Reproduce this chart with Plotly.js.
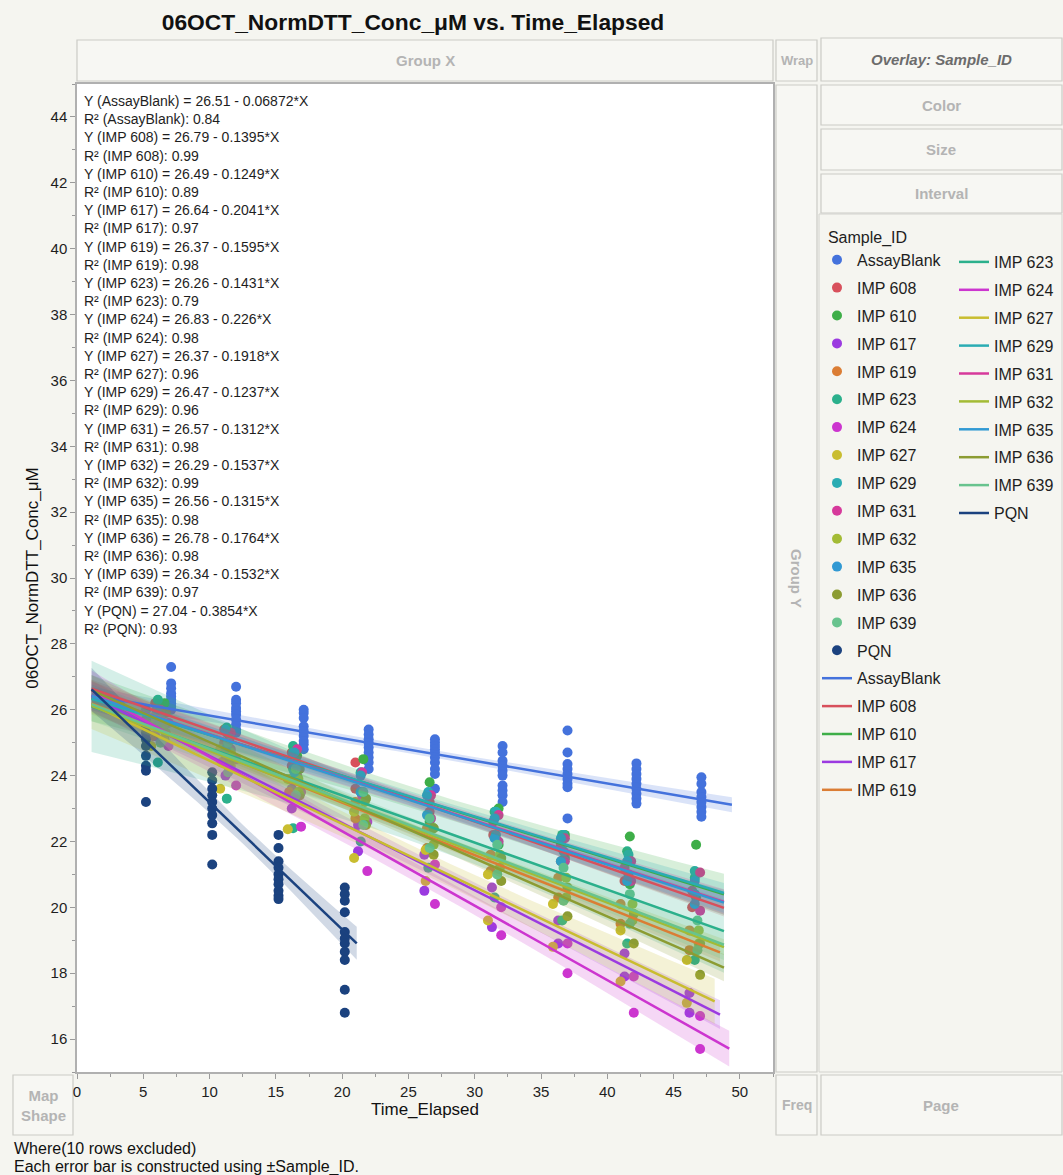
<!DOCTYPE html>
<html><head><meta charset="utf-8">
<script src="https://cdn.plot.ly/plotly-3.0.1.min.js"></script>
<style>html,body{margin:0;padding:0;background:#f5f5f0}</style>
</head><body><div id="chart" style="width:1063px;height:1175px"></div>
<script>
// ---------------- DATA ----------------
const sampleIds = ['AssayBlank','IMP 608','IMP 610','IMP 617','IMP 619','IMP 623','IMP 624','IMP 627','IMP 629','IMP 631','IMP 632','IMP 635','IMP 636','IMP 639','PQN'];
const seriesColors = ['#4472dc','#d8505c','#3eae48','#9b3ae0','#db7d34','#2bb08c','#cc35cf','#c9bd30','#2aacb3','#d6399b','#a3bb35','#3199d3','#8c9c32','#68c38e','#1b427f'];
const intercepts = [26.51,26.79,26.49,26.64,26.37,26.26,26.83,26.37,26.47,26.57,26.29,26.56,26.78,26.34,27.04];
const slopes = [-0.06872,-0.1395,-0.1249,-0.2041,-0.1595,-0.1431,-0.226,-0.1918,-0.1237,-0.1312,-0.1537,-0.1315,-0.1764,-0.1532,-0.3854];
const rSquared = [0.84,0.99,0.89,0.97,0.98,0.79,0.98,0.96,0.96,0.98,0.99,0.98,0.98,0.97,0.93];
const fitStart = [1.1,1.1,1.1,1.1,1.1,1.1,1.1,1.1,1.1,1.1,1.1,1.1,1.1,1.1,1.1];
const fitEnd = [49.4,48.8,48.8,48.5,48.5,48.8,49.2,48.1,48.8,48.8,48.8,48.8,48.8,48.8,21.1];

const tAssayBlank = [7.1,12.0,17.1,22.0,27.0,32.1,37.0,42.2,47.1];
const yAssayBlank = [
  [27.3,26.8,26.65,26.5,26.4,26.3,26.2,26.1,26.0],
  [26.7,26.3,26.2,26.05,25.95,25.85,25.7,25.55,25.4,25.3],
  [26.0,25.9,25.75,25.5,25.35,25.2,25.05,24.95,24.8],
  [25.4,25.25,25.1,25.0,24.85,24.7,24.55,24.4,24.2],
  [25.1,25.0,24.9,24.8,24.7,24.55,24.4,24.2,24.05,23.6],
  [24.9,24.7,24.45,24.3,24.15,24.0,23.7,23.55,23.4,23.2],
  [25.37,24.7,24.35,24.2,24.05,23.9,23.75,23.65,22.7],
  [24.37,24.2,24.05,23.9,23.75,23.6,23.45,23.3,23.15],
  [23.95,23.75,23.5,23.35,23.2,23.05,22.9,22.75]];
const tIMP608 = [5.9,11.1,16.2,21.0,26.6,31.4,36.5,41.3,46.4];
const yIMP608 = [[26.2,25.8],[25.4,25.0],[24.7,24.3],[24.4,23.6],[23.2,22.9],[22.6,22.2],[21.9,21.4],[21.2,20.8],[20.5,20.0]];
const tIMP610 = [6.6,11.4,16.6,21.6,26.6,31.8,36.8,41.7,46.7];
const yIMP610 = [[26.2,25.1],[25.3,24.4],[24.6,23.9],[24.5,23.3],[23.8,22.6],[23.0,21.9],[22.2,21.5],[22.15,20.7],[21.9,20.3]];
const tIMP617 = [5.9,11.2,16.2,21.2,26.2,31.3,36.3,41.3,46.2];
const yIMP617 = [[25.6,25.2],[24.0,24.5],[23.0,23.6],[21.7,22.5],[20.5,21.6],[19.4,20.6],[19.6,18.9],[17.9,18.6],[16.8,17.4]];
const tIMP619 = [5.7,10.9,16.0,21.0,26.4,31.2,36.3,41.0,46.2];
const yIMP619 = [[25.6,25.2],[24.8,24.4],[23.9,23.5],[23.2,22.7],[22.4,21.8],[21.6,21.1],[20.9,20.3],[20.1,19.5],[19.3,18.7]];
const tIMP623 = [6.1,11.3,16.3,21.4,26.5,31.5,36.6,41.5,46.6];
const yIMP623 = [[26.3,24.4],[25.46,23.3],[22.4,24.9],[24.06,22.0],[23.4,21.2],[22.9,20.3],[22.2,19.6],[21.7,18.9],[20.9,18.4]];
const tIMP624 = [6.9,12.0,16.9,21.9,27.0,32.0,37.0,42.0,47.0];
const yIMP624 = [[25.6,24.9],[23.7,24.5],[22.45,23.5],[21.1,22.6],[20.1,21.3],[19.15,20.0],[18.0,18.9],[16.8,17.9],[15.7,16.7]];
const tIMP627 = [5.6,10.8,15.9,20.9,26.3,31.0,35.9,41.0,46.0];
const yIMP627 = [[25.7,24.9],[23.6,24.8],[22.37,23.9],[21.5,22.9],[21.74,20.8],[19.6,21.0],[20.1,18.8],[19.3,17.75],[18.4,17.1]];
const tIMP629 = [6.1,11.3,16.3,21.4,26.5,31.6,36.7,41.6,46.6];
const yIMP629 = [[25.9,25.5],[25.3,24.8],[24.7,24.2],[24.1,23.5],[23.5,22.8],[22.9,22.2],[22.2,21.7],[21.6,21.0],[21.1,20.4]];
const tIMP631 = [6.3,11.6,16.6,21.5,26.7,31.8,36.8,41.8,47.0];
const yIMP631 = [[26.0,25.5],[25.3,24.8],[24.8,24.0],[24.1,23.4],[23.4,22.7],[22.8,22.0],[22.1,21.4],[21.4,20.8],[21.06,19.9]];
const tIMP632 = [6.5,11.6,16.7,21.7,26.9,31.9,36.9,41.9,46.9];
const yIMP632 = [[25.5,25.1],[24.7,24.3],[23.9,23.5],[23.2,22.7],[22.4,21.9],[21.6,21.2],[20.9,20.3],[20.1,19.6],[19.3,18.9]];
const tIMP635 = [6.0,11.2,16.4,21.4,26.4,31.5,36.5,41.5,46.6];
const yIMP635 = [[26.0,25.5],[25.4,24.8],[24.7,24.1],[24.0,23.5],[23.4,22.8],[22.7,22.1],[22.1,21.4],[21.4,20.8],[20.8,20.1]];
const tIMP636 = [6.7,11.5,16.8,21.8,26.9,32.0,37.0,42.0,47.0];
const yIMP636 = [[25.9,25.3],[25.1,24.4],[24.2,23.4],[23.3,22.5],[22.4,21.6],[21.5,20.8],[20.6,19.73],[19.8,18.9],[18.9,17.95]];
const tIMP639 = [6.3,11.4,16.5,21.6,26.6,31.7,36.7,41.7,46.8];
const yIMP639 = [[25.7,25.0],[25.0,24.1],[24.2,23.4],[23.5,22.5],[22.7,21.8],[21.9,21.0],[21.2,20.2],[20.4,19.5],[19.6,18.7]];
const tPQN = [5.2,10.2,15.2,20.2];
const yPQN = [
  [26.0,25.7,25.5,25.3,25.1,24.9,24.6,24.3,24.15,23.2],
  [24.1,23.85,23.6,23.4,23.2,23.0,22.8,22.55,22.2,21.3],
  [22.2,21.8,21.4,21.2,21.0,20.85,20.7,20.5,20.35,20.25],
  [20.6,20.4,20.2,19.85,19.25,19.05,18.9,18.65,18.4,17.5,16.8]];

const seriesTimes = [tAssayBlank,tIMP608,tIMP610,tIMP617,tIMP619,tIMP623,tIMP624,tIMP627,tIMP629,tIMP631,tIMP632,tIMP635,tIMP636,tIMP639,tPQN];
const seriesValues = [yAssayBlank,yIMP608,yIMP610,yIMP617,yIMP619,yIMP623,yIMP624,yIMP627,yIMP629,yIMP631,yIMP632,yIMP635,yIMP636,yIMP639,yPQN];

// ---------------- HELPERS ----------------
const FONT = 'Liberation Sans, Arial, Helvetica, sans-serif';
const xp = px => (px - 77) / 696;
const yp = py => (1072 - py) / 988;
function rgba(hex, a) {
  const n = parseInt(hex.slice(1), 16);
  return `rgba(${(n>>16)&255},${(n>>8)&255},${n&255},${a})`;
}
function flatten(ts, ys) {
  const xs = [], vs = [];
  ts.forEach((t, k) => ys[k].forEach(v => { xs.push(t); vs.push(v); }));
  return {xs, vs};
}

const markerTraces = [], bandTraces = [], lineTraces = [];
sampleIds.forEach((id, i) => {
  const {xs, vs} = flatten(seriesTimes[i], seriesValues[i]);
  markerTraces.push({
    type: 'scatter', mode: 'markers', x: xs, y: vs, name: id,
    legend: 'legend', legendgroup: 'm' + i,
    marker: {color: seriesColors[i], size: 10, line: {width: 0}},
    hoverinfo: 'x+y+name'
  });
  // confidence band for the fitted mean
  const a = intercepts[i], b = slopes[i];
  const n = xs.length;
  const xbar = xs.reduce((s, v) => s + v, 0) / n;
  const sxx = xs.reduce((s, v) => s + (v - xbar) ** 2, 0);
  const sse = xs.reduce((s, v, k) => s + (vs[k] - (a + b * v)) ** 2, 0);
  const sd = Math.sqrt(sse / (n - 2));
  const tq = 1.96 + 2.4 / (n - 2);
  const steps = 40, gx = [], up = [], lo = [];
  for (let k = 0; k <= steps; k++) {
    const x = fitStart[i] + (fitEnd[i] - fitStart[i]) * k / steps;
    const hw = tq * sd * Math.sqrt(1 / n + (x - xbar) ** 2 / sxx);
    gx.push(x); up.push(a + b * x + hw); lo.push(a + b * x - hw);
  }
  bandTraces.push({
    type: 'scatter', mode: 'lines', x: gx.concat(gx.slice().reverse()),
    y: up.concat(lo.slice().reverse()), fill: 'toself',
    fillcolor: rgba(seriesColors[i], 0.2), line: {width: 0}, showlegend: false, hoverinfo: 'skip'
  });
  lineTraces.push({
    type: 'scatter', mode: 'lines', x: [fitStart[i], fitEnd[i]],
    y: [a + b * fitStart[i], a + b * fitEnd[i]], name: id,
    legend: i < 5 ? 'legend' : 'legend2', legendgroup: 'l' + i,
    line: {color: seriesColors[i], width: 2.5}
  });
});

// equations text
const eqLines = [];
sampleIds.forEach((id, i) => {
  eqLines.push(`Y (${id}) = ${intercepts[i].toFixed(2)} - ${String(-slopes[i])}*X`);
  eqLines.push(`R² (${id}): ${rSquared[i].toFixed(2)}`);
});

// frame boxes of the Graph Builder
const boxes = [
  [77,40,773,81,'Group X',15,'#b4b4b4',false],
  [776,40,817,81,'Wrap',13,'#b4b4b4',false],
  [821,38,1062,81,'Overlay: Sample_ID',15,'#6c6c6c',true],
  [821,85,1062,125,'Color',15,'#b4b4b4',false],
  [821,129,1062,170,'Size',15,'#b4b4b4',false],
  [821,174,1062,213,'Interval',15,'#b4b4b4',false],
  [776,85,817,1072,'Group Y',15,'#b4b4b4',false],
  [13,1075,73,1135,'Map<br>Shape',15,'#b4b4b4',false],
  [776,1075,817,1135,'Freq',14,'#b4b4b4',false],
  [821,1075,1062,1135,'Page',15,'#b4b4b4',false]
];
const shapes = [];
const annotations = [];
boxes.forEach(([x0,y0,x1,y1,txt,fs,col,ital]) => {
  shapes.push({type:'rect', xref:'paper', yref:'paper', x0:xp(x0), x1:xp(x1), y0:yp(y1), y1:yp(y0),
    line:{color:'#cbcbc6', width:1.2}, fillcolor:'#f7f7f3', layer:'below'});
  annotations.push({xref:'paper', yref:'paper', x:xp((x0+x1)/2), y:yp((y0+y1)/2),
    xanchor:'center', yanchor:'middle', showarrow:false,
    text: ital ? `<b><i>${txt}</i></b>` : `<b>${txt}</b>`,
    textangle: txt === 'Group Y' ? 90 : 0,
    font:{family:FONT, size:fs, color:col}});
});
// legend panel outline
shapes.push({type:'rect', xref:'paper', yref:'paper', x0:xp(819), x1:xp(1062), y0:yp(1072), y1:yp(214),
  line:{color:'#d3d3ce', width:1}, fillcolor:'rgba(0,0,0,0)', layer:'below'});

annotations.push({xref:'paper', yref:'paper', x:xp(82), y:yp(91), xanchor:'left', yanchor:'top',
  align:'left', showarrow:false, text: eqLines.join('<br>'),
  font:{family:FONT, size:14, color:'#1e1e1e'}});
annotations.push({xref:'paper', yref:'paper', x:xp(12), y:yp(1148), xanchor:'left', yanchor:'middle',
  showarrow:false, text:'Where(10 rows excluded)', font:{family:FONT, size:16, color:'#111'}});
annotations.push({xref:'paper', yref:'paper', x:xp(12), y:yp(1167), xanchor:'left', yanchor:'middle',
  showarrow:false, text:'Each error bar is constructed using ±Sample_ID.', font:{family:FONT, size:16, color:'#111'}});

const layout = {
  width: 1063, height: 1175,
  margin: {l:77, r:290, t:84, b:103, autoexpand: false},
  paper_bgcolor: '#f5f5f0', plot_bgcolor: '#ffffff',
  font: {family: FONT, color: '#1e1e1e'},
  title: {text: '<b>06OCT_NormDTT_Conc_μM vs. Time_Elapsed</b>', font: {family: FONT, size: 22.8, color: '#111'},
          xref: 'container', yref: 'container', x: 413/1063, y: 1 - 22/1175, xanchor: 'center', yanchor: 'middle'},
  xaxis: {range: [0, 52.5], dtick: 5, tick0: 0, ticks: 'outside', ticklen: 5, tickcolor: '#9a9a9a',
          showline: true, mirror: true, linecolor: '#b0b0b0', linewidth: 1.5, showgrid: false, zeroline: false,
          tickfont: {size: 15, color: '#1e1e1e'},
          minor: {ticks: 'outside', dtick: 2.5, ticklen: 3, tickcolor: '#9a9a9a'},
          title: {text: 'Time_Elapsed', font: {size: 17, color: '#111'}, standoff: 2}},
  yaxis: {range: [15, 45], dtick: 2, tick0: 0, ticks: 'outside', ticklen: 5, tickcolor: '#9a9a9a',
          showline: true, mirror: true, linecolor: '#b0b0b0', linewidth: 1.5, showgrid: false, zeroline: false,
          tickfont: {size: 15, color: '#1e1e1e'},
          minor: {ticks: 'outside', dtick: 1, ticklen: 3, tickcolor: '#9a9a9a'},
          title: {text: '06OCT_NormDTT_Conc_μM', font: {size: 17, color: '#111'}, standoff: 8}},
  legend: {x: xp(817), xanchor: 'left', y: yp(222), yanchor: 'top', traceorder: 'grouped', tracegroupgap: 4.1,
           bgcolor: 'rgba(0,0,0,0)', font: {family: FONT, size: 16, color: '#1e1e1e'},
           title: {text: '&nbsp;&nbsp;Sample_ID', font: {family: FONT, size: 16, color: '#1e1e1e'}}},
  legend2: {x: xp(954), xanchor: 'left', y: yp(245), yanchor: 'top', traceorder: 'grouped', tracegroupgap: 4.1,
           bgcolor: 'rgba(0,0,0,0)', font: {family: FONT, size: 16, color: '#1e1e1e'}},
  shapes, annotations, showlegend: true
};

Plotly.newPlot('chart', markerTraces.concat(bandTraces, lineTraces), layout, {displayModeBar: false});
</script></body></html>
